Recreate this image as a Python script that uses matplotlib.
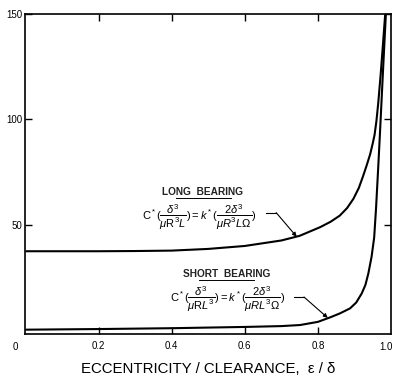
import matplotlib
matplotlib.use("Agg")
import matplotlib.pyplot as plt

plt.rcParams['font.family'] = ['Liberation Sans', 'DejaVu Sans']
plt.rcParams['mathtext.fontset'] = 'custom'
plt.rcParams['mathtext.rm'] = 'Liberation Sans'
plt.rcParams['mathtext.it'] = 'Liberation Sans:italic'
plt.rcParams['mathtext.bf'] = 'Liberation Sans:bold'

# ---- data ----
long_eps = [0.0, 0.1, 0.2, 0.3, 0.4, 0.5, 0.6, 0.7, 0.75, 0.806, 0.835, 0.86, 0.88,
            0.897, 0.912, 0.924, 0.934, 0.943, 0.95, 0.955, 0.96, 0.965, 0.972,
            0.978, 0.984]
long_val = [37.5, 37.5, 37.5, 37.6, 37.8, 38.6, 40.0, 42.6, 44.8, 48.9, 51.5, 54.4, 58.0,
            62.3, 67.5, 73.3, 78.5, 83.5, 88.6, 92.6, 99.0, 107.5, 121.8,
            135.5, 149.5]

short_eps = [0.0, 0.2, 0.4, 0.6, 0.7, 0.751, 0.8, 0.833, 0.86, 0.888, 0.905, 0.92,
             0.93, 0.938, 0.947, 0.954, 0.959, 0.965, 0.970, 0.978, 0.986]
short_val = [0.3, 0.6, 1.0, 1.6, 2.0, 2.5, 4.0, 6.1, 8.0, 10.4, 13.2, 17.5,
             21.5, 26.9, 35.0, 44.0, 57.5, 77.0, 94.0, 122.5, 150.0]

x_ticks = [0.2, 0.4, 0.6, 0.8]
x_tick_labels = ['0.2', '0.4', '0.6', '0.8']
y_ticks = [50, 100, 150]
y_tick_labels = ['50', '100', '150']

# leader lines (label -> curve)
long_leader_x = [0.658, 0.686, 0.742]
long_leader_y = [55.8, 55.8, 44.4]
short_leader_x = [0.735, 0.762, 0.827]
short_leader_y = [15.8, 15.8, 5.9]

fig = plt.figure(figsize=(4.05, 3.86), dpi=100)
ax = fig.add_axes([0.0627, 0.1347, 0.9027, 0.829])

ax.plot(long_eps, long_val, color='black', lw=1.5, solid_capstyle='butt',
        solid_joinstyle='round')
ax.plot(short_eps, short_val, color='black', lw=1.5, solid_capstyle='butt',
        solid_joinstyle='round')

ax.set_xlim(0, 1.0)
ax.set_ylim(-1.75, 150)

ax.set_xticks(x_ticks)
ax.set_xticklabels(x_tick_labels)
ax.set_yticks(y_ticks)
ax.set_yticklabels(y_tick_labels)
ax.tick_params(direction='in', length=5, width=1.0, top=True, right=True,
               labelsize=7, pad=5, colors='black')
ax.tick_params(axis='y', pad=2)
for s in ax.spines.values():
    s.set_linewidth(1.2)

# extra x labels at the ends
ax.text(-0.028, -0.025, '0', transform=ax.transAxes, ha='center', va='top', fontsize=7)
ax.text(0.987, -0.025, '1.0', transform=ax.transAxes, ha='center', va='top', fontsize=7)

ax.set_xlabel('ECCENTRICITY / CLEARANCE,  ε / δ', fontsize=10.8, labelpad=8)

# annotations
ax.text(0.485, 65.4, 'LONG  BEARING', ha='center', va='center', fontsize=7.3,
        weight='bold', color='#222222')
ax.plot([0.413, 0.562], [62.6, 62.6], color='black', lw=0.7)
ax.text(0.475, 53.5,
        r'$\mathrm{C}^*(\dfrac{\delta^3}{\mu \mathrm{R}^3 L})=k^*(\dfrac{2\delta^3}{\mu R^3 L\Omega})$',
        ha='center', va='center', fontsize=8)

ax.text(0.55, 26.7, 'SHORT  BEARING', ha='center', va='center', fontsize=7.3,
        weight='bold', color='#222222')
ax.plot([0.475, 0.625], [23.9, 23.9], color='black', lw=0.7)
ax.text(0.553, 14.8,
        r'$\mathrm{C}^*(\dfrac{\delta^3}{\mu \mathrm{R} L^3})=k^*(\dfrac{2\delta^3}{\mu R L^3\Omega})$',
        ha='center', va='center', fontsize=8)

for lx, ly in [(long_leader_x, long_leader_y), (short_leader_x, short_leader_y)]:
    ax.plot(lx[:2], ly[:2], color='black', lw=0.8)
    ax.annotate('', xy=(lx[2], ly[2]), xytext=(lx[1], ly[1]),
                arrowprops=dict(arrowstyle='-|>', color='black', lw=0.8,
                                mutation_scale=6, shrinkA=0, shrinkB=0))

fig.savefig('out.png', dpi=100)
